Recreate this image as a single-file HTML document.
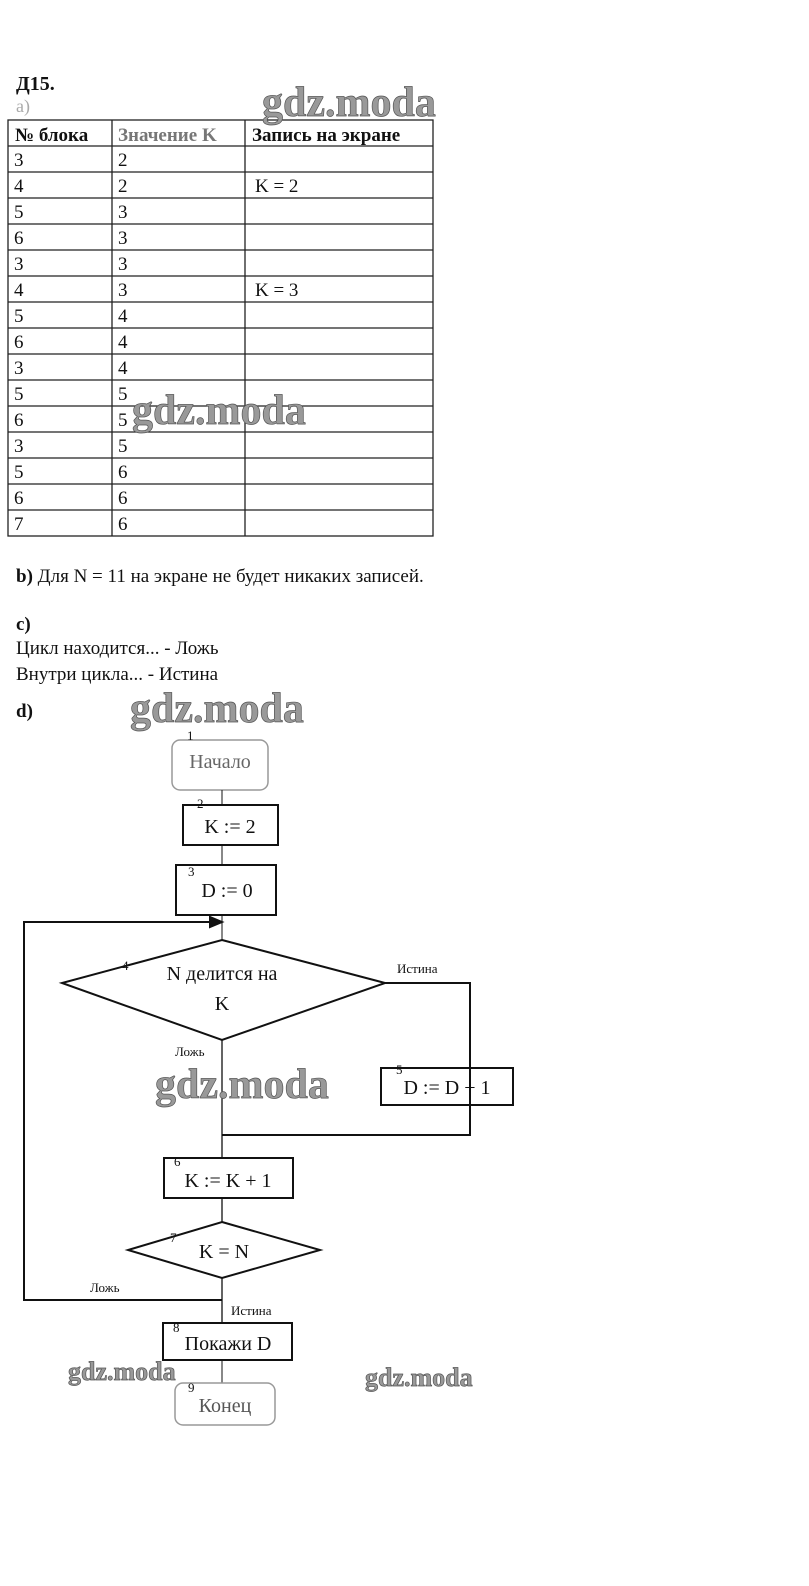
<!DOCTYPE html>
<html><head><meta charset="utf-8"><style>
html,body{margin:0;padding:0;background:#fff;}
svg{display:block;}
text{font-family:"Liberation Serif",serif;fill:#111;}
.wm text{font-family:"Liberation Serif",serif;font-weight:bold;fill:#999;stroke:#555;stroke-width:0.7;}
</style></head><body>
<svg width="809" height="1586" viewBox="0 0 809 1586" xmlns="http://www.w3.org/2000/svg">
<text x="16" y="90" font-size="20" font-weight="bold">Д15.</text>
<text x="16" y="112" font-size="18" style="fill:#aaa">a)</text>
<g stroke="#222" stroke-width="1.3" fill="none">
<rect x="8" y="120" width="425" height="416"/>
<line x1="112" y1="120" x2="112" y2="536"/>
<line x1="245" y1="120" x2="245" y2="536"/>
<line x1="8" y1="146" x2="433" y2="146"/><line x1="8" y1="172" x2="433" y2="172"/>
<line x1="8" y1="198" x2="433" y2="198"/><line x1="8" y1="224" x2="433" y2="224"/>
<line x1="8" y1="250" x2="433" y2="250"/><line x1="8" y1="276" x2="433" y2="276"/>
<line x1="8" y1="302" x2="433" y2="302"/><line x1="8" y1="328" x2="433" y2="328"/>
<line x1="8" y1="354" x2="433" y2="354"/><line x1="8" y1="380" x2="433" y2="380"/>
<line x1="8" y1="406" x2="433" y2="406"/><line x1="8" y1="432" x2="433" y2="432"/>
<line x1="8" y1="458" x2="433" y2="458"/><line x1="8" y1="484" x2="433" y2="484"/>
<line x1="8" y1="510" x2="433" y2="510"/>
</g>
<g font-size="19">
<text x="15" y="141" font-weight="bold">№ блока</text>
<text x="118" y="141" font-weight="bold" style="fill:#777">Значение K</text>
<text x="252" y="141" font-weight="bold">Запись на экране</text>
<text x="14" y="166">3</text><text x="118" y="166">2</text>
<text x="14" y="192">4</text><text x="118" y="192">2</text><text x="255" y="192">K = 2</text>
<text x="14" y="218">5</text><text x="118" y="218">3</text>
<text x="14" y="244">6</text><text x="118" y="244">3</text>
<text x="14" y="270">3</text><text x="118" y="270">3</text>
<text x="14" y="296">4</text><text x="118" y="296">3</text><text x="255" y="296">K = 3</text>
<text x="14" y="322">5</text><text x="118" y="322">4</text>
<text x="14" y="348">6</text><text x="118" y="348">4</text>
<text x="14" y="374">3</text><text x="118" y="374">4</text>
<text x="14" y="400">5</text><text x="118" y="400">5</text>
<text x="14" y="426">6</text><text x="118" y="426">5</text>
<text x="14" y="452">3</text><text x="118" y="452">5</text>
<text x="14" y="478">5</text><text x="118" y="478">6</text>
<text x="14" y="504">6</text><text x="118" y="504">6</text>
<text x="14" y="530">7</text><text x="118" y="530">6</text>
</g>
<text x="16" y="582" font-size="19"><tspan font-weight="bold">b)</tspan> Для N = 11 на экране не будет никаких записей.</text>
<text x="16" y="630" font-size="19" font-weight="bold">c)</text>
<text x="16" y="654" font-size="19">Цикл находится... - Ложь</text>
<text x="16" y="680" font-size="19">Внутри цикла... - Истина</text>
<text x="16" y="717" font-size="19" font-weight="bold">d)</text>

<g stroke="#111" stroke-width="2" fill="none">
<rect x="172" y="740" width="96" height="50" rx="8" stroke="#999" stroke-width="1.5"/>
<line x1="222" y1="790" x2="222" y2="805" stroke-width="1"/>
<rect x="183" y="805" width="95" height="40"/>
<line x1="222" y1="845" x2="222" y2="865" stroke-width="1"/>
<rect x="176" y="865" width="100" height="50"/>
<line x1="222" y1="915" x2="222" y2="940" stroke-width="1"/>
<polyline points="222,1300 24,1300 24,922 210,922"/>
<polygon points="222,922 210,917 210,927" fill="#111"/>
<polygon points="222,940 385,983 222,1040 62,983"/>
<polyline points="385,983 470,983 470,1135 222,1135"/>
<rect x="381" y="1068" width="132" height="37"/>
<line x1="222" y1="1040" x2="222" y2="1158" stroke-width="1.3"/>
<rect x="164" y="1158" width="129" height="40"/>
<line x1="222" y1="1198" x2="222" y2="1222" stroke-width="1.3"/>
<polygon points="222,1222 320,1250 222,1278 128,1250"/>
<line x1="222" y1="1278" x2="222" y2="1323" stroke-width="1.3"/>
<rect x="163" y="1323" width="129" height="37"/>
<line x1="222" y1="1360" x2="222" y2="1383" stroke-width="1"/>
<rect x="175" y="1383" width="100" height="42" rx="8" stroke="#999" stroke-width="1.5"/>
</g>
<g font-size="20">
<text x="220" y="768" text-anchor="middle" style="fill:#666">Начало</text>
<text x="230" y="833" text-anchor="middle">K := 2</text>
<text x="227" y="897" text-anchor="middle">D := 0</text>
<text x="222" y="980" text-anchor="middle">N делится на</text>
<text x="222" y="1010" text-anchor="middle">K</text>
<text x="447" y="1094" text-anchor="middle">D := D + 1</text>
<text x="228" y="1187" text-anchor="middle">K := K + 1</text>
<text x="224" y="1258" text-anchor="middle">K = N</text>
<text x="228" y="1350" text-anchor="middle">Покажи D</text>
<text x="225" y="1412" text-anchor="middle" style="fill:#555">Конец</text>
</g>
<g font-size="13">
<text x="187" y="740">1</text><text x="197" y="808">2</text><text x="188" y="876">3</text>
<text x="122" y="970">4</text><text x="396" y="1074">5</text><text x="174" y="1166">6</text>
<text x="170" y="1242">7</text><text x="173" y="1332">8</text><text x="188" y="1392">9</text>
<text x="397" y="973">Истина</text><text x="175" y="1056">Ложь</text>
<text x="90" y="1292">Ложь</text><text x="231" y="1315">Истина</text>
</g>
<g class="wm" font-size="42">
<text x="262" y="116">gdz.moda</text>
<text x="132" y="424">gdz.moda</text>
<text x="130" y="722">gdz.moda</text>
<text x="155" y="1098">gdz.moda</text>
</g>
<g class="wm" font-size="26">
<text x="68" y="1380">gdz.moda</text>
<text x="365" y="1386">gdz.moda</text>
</g>
</svg>
</body></html>
